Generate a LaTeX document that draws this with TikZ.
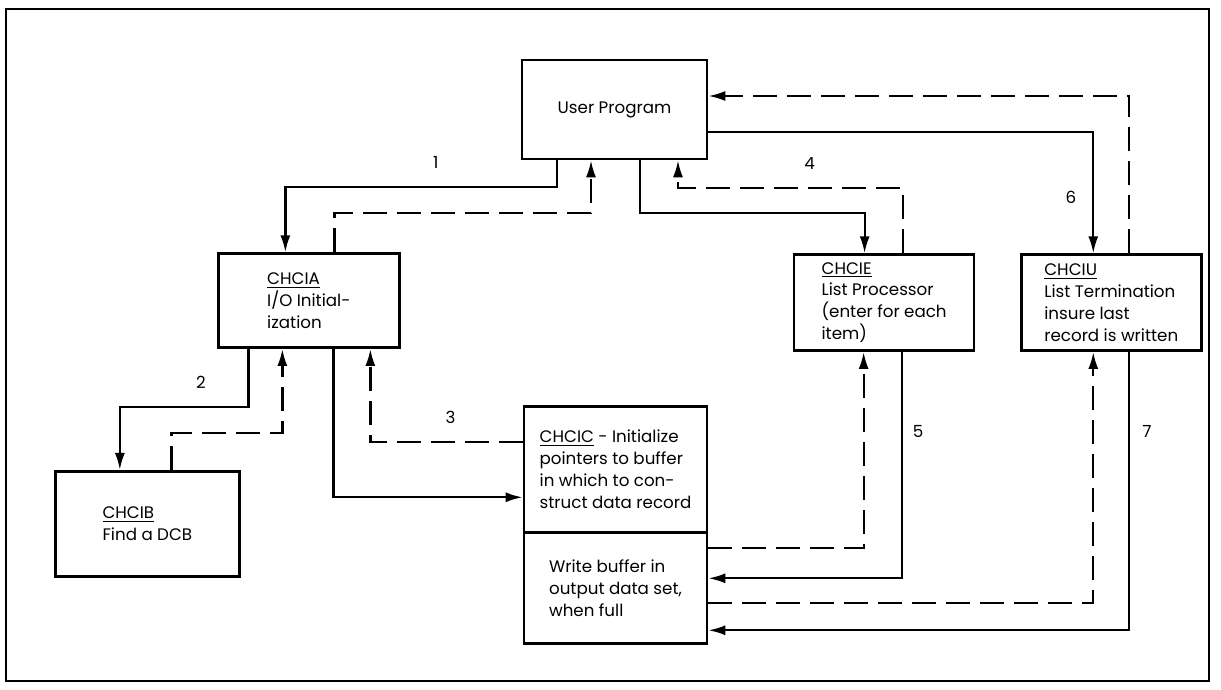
\documentclass[tikz,border=0pt]{standalone}
\usepackage{fontspec}
\setmainfont{Poppins}
\usetikzlibrary{arrows.meta,positioning}

\begin{document}
\begin{tikzpicture}[
  font=\fontsize{9.5}{12.5}\selectfont,
  box/.style={draw, line width=1.5pt, align=left, inner sep=2pt},
  arr/.style={-{Latex[length=3.4mm,width=2mm]}, line width=1.3pt},
  ret/.style={arr, dash pattern=on 4.8mm off 2mm},
  num/.style={inner sep=0pt}
]
\useasboundingbox (0,0) rectangle (24.42,-13.8);
\draw[line width=1.2pt] (0.12,-0.18) rectangle (24.18,-13.62);
\node[box, minimum width=3.70cm, minimum height=1.98cm] (UP) at (12.29,-2.19) {User Program};
\node[box, minimum width=3.62cm, minimum height=1.88cm, below left=1.84cm and 2.40cm of UP] (CHCIA)
  {\underline{CHCIA}\\I/O Initial-\\ization};
\node[box, minimum width=3.68cm, minimum height=2.10cm, below=2.42cm of CHCIA, xshift=-3.23cm] (CHCIB)
  {\underline{CHCIB}\\Find a DCB};
\node[box, minimum width=3.66cm, minimum height=2.52cm, below right=1.12cm and 2.44cm of CHCIA] (CHCIC)
  {\underline{CHCIC} - Initialize\\pointers to buffer\\in which to con-\\struct data record};
\node[box, minimum width=3.66cm, minimum height=2.22cm, below=-1.5pt of CHCIC] (W)
  {Write buffer in\\output data set,\\when full};
\node[box, minimum width=3.60cm, minimum height=1.92cm, below right=1.86cm and 1.69cm of UP] (CHCIE)
  {\underline{CHCIE}\\List Processor\\(enter for each\\item)};
\node[box, minimum width=3.60cm, minimum height=1.92cm, right=0.89cm of CHCIE] (CHCIU)
  {\underline{CHCIU}\\List Termination\\insure last\\record is written};
\draw[arr] ([xshift=-1.15cm]UP.south) -- ++(0,-0.54) -| node[pos=0.223, above=3.6mm, num] {1} ([xshift=-0.47cm]CHCIA.north);
\draw[ret] ([xshift=0.51cm]CHCIA.north) -- ++(0,0.78) -| ([xshift=-0.47cm]UP.south);
\draw[arr] ([xshift=-1.21cm]CHCIA.south) -- ++(0,-1.16) -| node[pos=0.185, above=3.5mm, num] {2} ([xshift=-0.55cm]CHCIB.north);
\draw[ret] ([xshift=0.48cm]CHCIB.north) -- ++(0,0.74) -| ([xshift=-0.53cm]CHCIA.south);
\draw[arr] ([xshift=0.49cm]CHCIA.south) |- ([yshift=-0.56cm]CHCIC.west);
\draw[ret] ([yshift=0.54cm]CHCIC.west) -| node[pos=0.237, above=3.6mm, num] {3} ([xshift=1.23cm]CHCIA.south);
\draw[arr] ([xshift=0.51cm]UP.south) -- ++(0,-1.06) -| ([xshift=-0.39cm]CHCIE.north);
\draw[ret] ([xshift=0.37cm]CHCIE.north) -- ++(0,1.30) -| node[pos=0.207, above=3.6mm, num] {4} ([xshift=1.27cm]UP.south);
\draw[arr] ([yshift=-0.45cm]UP.east) -| node[pos=0.771, left=3.2mm, num] {6} ([xshift=-0.36cm]CHCIU.north);
\draw[ret] ([xshift=0.36cm]CHCIU.north) |- ([yshift=0.27cm]UP.east);
\draw[arr] ([xshift=0.35cm]CHCIE.south) |- node[pos=0.176, right=2mm, num] {5} ([yshift=0.19cm]W.east);
\draw[ret] ([yshift=0.79cm]W.east) -| ([xshift=-0.41cm]CHCIE.south);
\draw[ret] ([yshift=-0.31cm]W.east) -| ([xshift=-0.36cm]CHCIU.south);
\draw[arr] ([xshift=0.36cm]CHCIU.south) |- node[pos=0.143, right=2.4mm, num] {7} ([yshift=-0.85cm]W.east);
\end{tikzpicture}
\end{document}
